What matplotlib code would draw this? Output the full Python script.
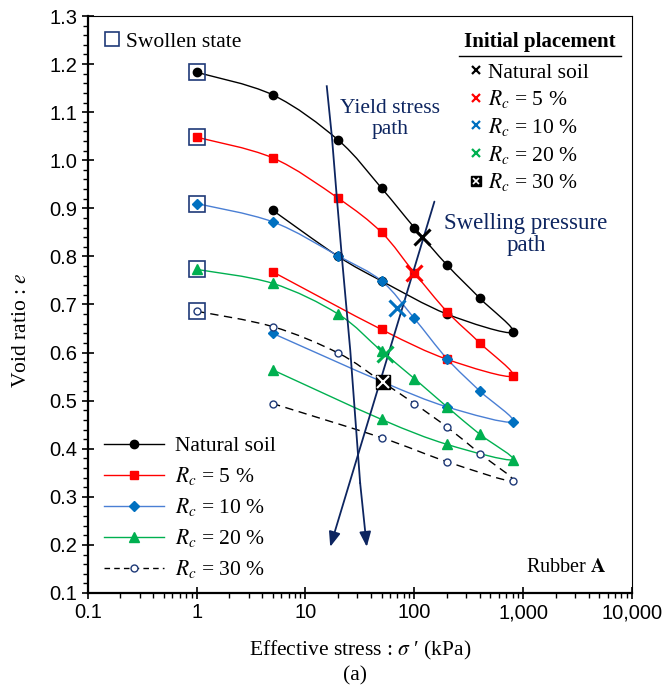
import matplotlib.pyplot as plt
import numpy as np
from matplotlib.path import Path
from matplotlib.patches import PathPatch
from matplotlib.lines import Line2D
from matplotlib.ticker import FixedLocator, FuncFormatter, MultipleLocator, LogLocator, NullFormatter

plt.rcParams['mathtext.fontset'] = 'stix'
SERIF = ['Liberation Serif', 'DejaVu Serif']
SANS = ['Liberation Sans', 'DejaVu Sans']

# Data (stress in kPa, void ratio e); loading then unloading
natural_x = [1, 5, 20, 50, 100, 200, 400, 800, 200, 50, 20, 5]
natural_e = [1.183, 1.136, 1.042, 0.942, 0.860, 0.782, 0.713, 0.642, 0.680, 0.749, 0.800, 0.896]
rc5_x = [1, 5, 20, 50, 100, 200, 400, 800, 200, 50, 5]
rc5_e = [1.048, 1.005, 0.921, 0.850, 0.766, 0.685, 0.620, 0.551, 0.586, 0.648, 0.768]
rc10_x = [1, 5, 20, 50, 100, 200, 400, 800, 200, 50, 5]
rc10_e = [0.910, 0.872, 0.801, 0.749, 0.671, 0.587, 0.520, 0.456, 0.487, 0.540, 0.640]
rc20_x = [1, 5, 20, 50, 100, 200, 400, 800, 200, 50, 5]
rc20_e = [0.773, 0.744, 0.680, 0.603, 0.546, 0.487, 0.430, 0.377, 0.409, 0.461, 0.564]
rc30_x = [1, 5, 20, 50, 100, 200, 400, 800, 200, 50, 5]
rc30_e = [0.686, 0.654, 0.599, 0.540, 0.494, 0.445, 0.390, 0.333, 0.373, 0.423, 0.494]

# Initial placement points
init_labels = ['Natural soil', r'$R_c$ = 5 %', r'$R_c$ = 10 %', r'$R_c$ = 20 %', r'$R_c$ = 30 %']
init_x = [118, 100, 69, 54, 52]
init_e = [0.840, 0.765, 0.692, 0.597, 0.539]

# Stress paths
yield_x = [15.7, 17.5, 19.4, 21.6, 25.8, 31.8, 36.6]
yield_e = [1.154, 1.049, 0.924, 0.799, 0.605, 0.329, 0.196]
swell_x = [153, 16.9]
swell_e = [0.914, 0.196]

NAVY = '#1f3a78'
PATH_C = '#0d2560'
BLUE_M = '#0070c0'
BLUE_L = '#4a7fd4'
GREEN = '#00b050'
RED = '#ff0000'


def smooth_line(ax, xs, ys, **kw):
    # Excel-like smoothed line: cubic Bezier segments in (log x, y) space
    lx = np.log10(xs)
    pts = np.column_stack([lx, ys])
    n = len(pts)
    verts = [pts[0]]
    codes = [Path.MOVETO]
    for i in range(n - 1):
        p0 = pts[max(i - 1, 0)]
        p1 = pts[i]
        p2 = pts[i + 1]
        p3 = pts[min(i + 2, n - 1)]
        c1 = p1 + (p2 - p0) / 6.0
        c2 = p2 - (p3 - p1) / 6.0
        verts += [c1, c2, p2]
        codes += [Path.CURVE4] * 3
    verts = np.array(verts)
    verts[:, 0] = 10 ** verts[:, 0]
    patch = PathPatch(Path(verts, codes), facecolor='none', **kw)
    ax.add_patch(patch)


fig = plt.figure(figsize=(6.65, 6.9), dpi=100)
ax = fig.add_axes([0.1319, 0.1406, 0.8185, 0.8362])
ax.set_xscale('log')
ax.set_xlim(0.1, 10000)
ax.set_ylim(0.1, 1.3)

series = [
    (natural_x, natural_e, 'black', 'black', 'o', 6, '-'),
    (rc5_x, rc5_e, RED, RED, 's', 6, '-'),
    (rc10_x, rc10_e, BLUE_L, BLUE_M, 'D', 5, '-'),
    (rc20_x, rc20_e, GREEN, GREEN, '^', 7, '-'),
    (rc30_x, rc30_e, 'black', NAVY, 'o', 5, (0, (6, 4))),
]
for xs, es, lc, mc, mk, ms, ls in series:
    smooth_line(ax, xs, es, edgecolor=lc, linewidth=1.0, linestyle=ls, zorder=2)
    if mk == 'o' and mc == NAVY:
        ax.plot(xs, es, linestyle='none', marker='o', ms=ms, mfc='white', mec=NAVY, mew=1.0, zorder=3)
    else:
        ax.plot(xs, es, linestyle='none', marker=mk, ms=ms, color=mc, zorder=3)
    # swollen state box
    ax.plot(xs[0], es[0], linestyle='none', marker='s', ms=11, mfc='none', mec=NAVY, mew=1.2, zorder=4)

# stress paths
ax.plot(yield_x[:-1], yield_e[:-1], color=PATH_C, lw=1.3, zorder=5)
ax.annotate('', xy=(yield_x[-1], yield_e[-1]), xytext=(yield_x[-2], yield_e[-2]),
            arrowprops=dict(arrowstyle='-|>,head_length=0.9,head_width=0.35', color=PATH_C, lw=1.3,
                            shrinkA=0, shrinkB=0), zorder=5)
ax.annotate('', xy=(swell_x[-1], swell_e[-1]), xytext=(swell_x[0], swell_e[0]),
            arrowprops=dict(arrowstyle='-|>,head_length=0.9,head_width=0.35', color=PATH_C, lw=1.3,
                            shrinkA=0, shrinkB=0), zorder=5)

# initial placement markers
init_cols = ['black', RED, BLUE_M, GREEN]
for i in range(4):
    ax.plot(init_x[i], init_e[i], linestyle='none', marker='x', ms=11, mew=2.2, color=init_cols[i], zorder=6)
ax.plot(init_x[4], init_e[4], linestyle='none', marker='s', ms=10, color='black', zorder=6)
ax.plot(init_x[4], init_e[4], linestyle='none', marker='x', ms=8, mew=1.5, color='white', zorder=7)

# axes styling
for s in ['left', 'bottom']:
    ax.spines[s].set_linewidth(1.6)
for s in ['top', 'right']:
    ax.spines[s].set_linewidth(0.8)
ax.xaxis.set_major_locator(FixedLocator([0.1, 1, 10, 100, 1000, 10000]))
ax.xaxis.set_minor_locator(LogLocator(base=10, subs=np.arange(2, 10)))
ax.xaxis.set_minor_formatter(NullFormatter())
ax.xaxis.set_major_formatter(FuncFormatter(lambda v, p: '0.1' if v < 1 else f'{int(round(v)):,}'))
ax.yaxis.set_major_locator(MultipleLocator(0.1))
ax.yaxis.set_minor_locator(MultipleLocator(0.02))
ax.yaxis.set_major_formatter(FuncFormatter(lambda v, p: f'{v:.1f}'))
ax.tick_params(which='major', direction='inout', length=9, width=1.2, labelsize=14.5, pad=3)
ax.tick_params(which='minor', direction='out', length=3.5, width=1.0)
ax.tick_params(top=False, right=False)
for lab in ax.get_xticklabels() + ax.get_yticklabels():
    lab.set_family(SANS)

ax.set_xlabel('Effective stress : $\\sigma$ \u2032 (kPa)', family=SERIF, fontsize=15.5, labelpad=12)
ax.set_ylabel('Void ratio : $e$', family=SERIF, fontsize=15.5)
ax.yaxis.set_label_coords(-0.104, 0.456)
fig.text(0.534, 0.021, '(a)', family=SERIF, fontsize=15.5, ha='center', va='center')

# texts
ax.text(0.555, 0.822, 'Yield stress\npath', transform=ax.transAxes, family=SERIF, fontsize=15.5,
        color=PATH_C, ha='center', va='center', linespacing=1.15)
ax.text(0.805, 0.621, 'Swelling pressure\npath', transform=ax.transAxes, family=SERIF, fontsize=16.5,
        color=PATH_C, ha='center', va='center', linespacing=1.1)
ax.text(0.952, 0.045, r'Rubber $\mathbf{A}$', transform=ax.transAxes, family=SERIF, fontsize=14.5,
        ha='right', va='center')

# legend: loading series
leg_handles = [
    Line2D([], [], color='black', marker='o', ms=6, lw=1.0),
    Line2D([], [], color=RED, marker='s', ms=6, lw=1.0),
    Line2D([], [], color=BLUE_L, marker='D', ms=5, mfc=BLUE_M, mec=BLUE_M, lw=1.0),
    Line2D([], [], color=GREEN, marker='^', ms=7, lw=1.0),
    Line2D([], [], color='black', marker='o', ms=5, mfc='white', mec=NAVY, lw=1.0, ls=(0, (4, 3))),
]
leg1 = ax.legend(leg_handles, init_labels, loc='lower left', bbox_to_anchor=(0.03, 0.022), frameon=False,
                 prop={'family': SERIF, 'size': 15.5}, handlelength=2.8, handletextpad=0.5,
                 labelspacing=0.42, borderpad=0, borderaxespad=0)
ax.add_artist(leg1)

# legend: initial placement
ip_handles = [Line2D([], [], ls='none', marker='x', ms=6, mew=1.6, color=c) for c in init_cols]
ip_handles.append((Line2D([], [], ls='none', marker='s', ms=7, color='black'),
                   Line2D([], [], ls='none', marker='x', ms=5, mew=1.2, color='white')))
leg2 = ax.legend(ip_handles, init_labels, loc='upper left', bbox_to_anchor=(0.7, 0.919), frameon=False,
                 prop={'family': SERIF, 'size': 15.5}, handlelength=0.7, handletextpad=0.2,
                 labelspacing=0.26, borderpad=0, borderaxespad=0)
ax.add_artist(leg2)
ax.text(0.83, 0.955, 'Initial placement', transform=ax.transAxes, family=SERIF, fontsize=15,
        fontweight='bold', ha='center', va='center')
ax.plot([0.682, 0.98], [0.93, 0.93], transform=ax.transAxes, color='black', lw=1.0, clip_on=False)

# legend: swollen state
sw = Line2D([], [], ls='none', marker='s', ms=10, mfc='none', mec=NAVY, mew=1.2)
leg3 = ax.legend([sw], ['Swollen state'], loc='upper left', bbox_to_anchor=(0.028, 0.973), frameon=False,
                 prop={'family': SERIF, 'size': 15.5}, handlelength=0.8, handletextpad=0.25,
                 borderpad=0, borderaxespad=0)

fig.savefig('out.png', dpi=100)
